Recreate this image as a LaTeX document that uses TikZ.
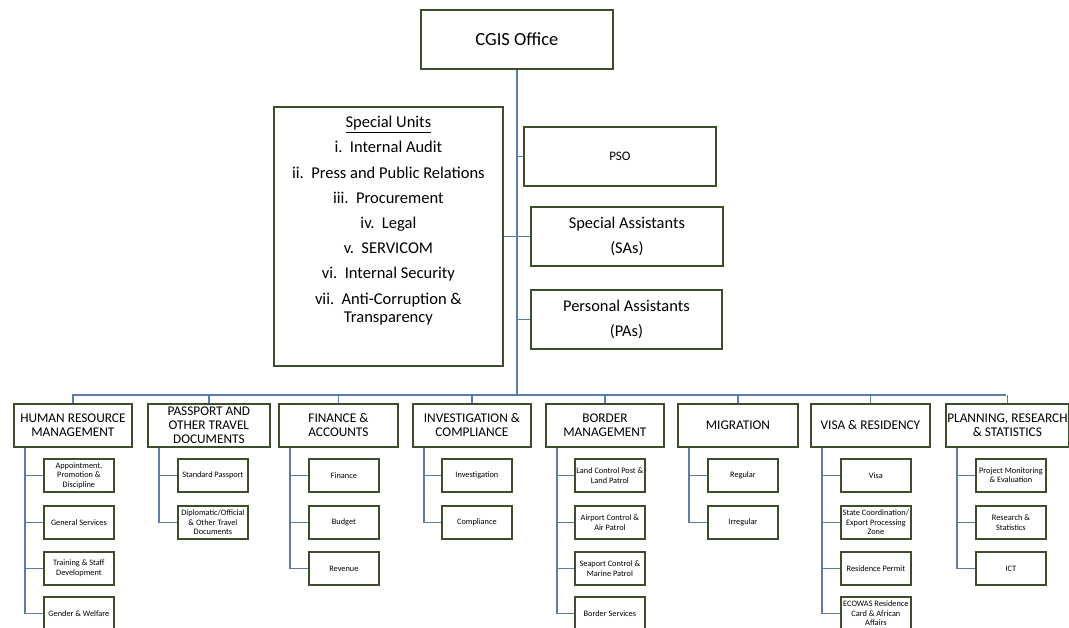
\documentclass[tikz,border=0pt]{standalone}
\usepackage{fontspec}
\setmainfont{Carlito}
\definecolor{boxline}{RGB}{62,78,42}
\definecolor{conn}{RGB}{92,124,176}
\tikzset{
  x=1pt,y=-1pt,
  box/.style={draw=boxline,line width=1.8pt,fill=white,inner sep=1pt,align=center,anchor=north west},
  topbox/.style={box,minimum width=118pt,minimum height=43pt,font=\fontsize{13.3}{14}\selectfont},
  subbox/.style={box,minimum width=70pt,minimum height=33pt,inner sep=0pt,font=\fontsize{8.3}{9.5}\selectfont},
  link/.style={draw=conn,line width=1.3pt},
}
\begin{document}
\begin{tikzpicture}
\useasboundingbox (0,0) rectangle (1069,628);
% top
\node[box,minimum width=192pt,minimum height=59pt,font=\fontsize{18.5}{20}\selectfont] (cgis) at (420,9) {CGIS Office};
\node[box,minimum width=229pt,minimum height=259pt] (su) at (273,106) {};
\node[anchor=north,align=center,font=\fontsize{16.5}{25.2}\selectfont,inner sep=0pt] (sutext) at ([yshift=-10pt]su.north) {%
\underline{Special Units}\\
i.\ \ Internal Audit\\
ii.\ \ Press and Public Relations\\
iii.\ \ Procurement\\
iv.\ \ Legal\\
v.\ \ SERVICOM\\
vi.\ \ Internal Security\\
vii.\ \ Anti-Corruption \&\\[-7pt]
Transparency};
\node[box,minimum width=192pt,minimum height=59pt,font=\fontsize{13}{14}\selectfont] (pso) at (523,126) {PSO};
\node[box,minimum width=192pt,minimum height=59pt,font=\fontsize{16.4}{25.7}\selectfont] (sa) at (530,206) {Special Assistants\\(SAs)};
\node[box,minimum width=191pt,minimum height=59pt,font=\fontsize{16.4}{25.7}\selectfont] (pa) at (530,289) {Personal Assistants\\(PAs)};
% bus
\coordinate (busL) at (72,395);
\coordinate (busR) at (1006,395);
% departments
\node[topbox] (hr) at (13,403) {HUMAN RESOURCE\\MANAGEMENT};
\node[topbox,minimum width=122pt] (pp) at (147,403) {PASSPORT AND\\OTHER TRAVEL\\DOCUMENTS};
\node[topbox,minimum width=119pt] (fa) at (278,403) {FINANCE \&\\ACCOUNTS};
\node[topbox] (ic) at (412,403) {INVESTIGATION \&\\COMPLIANCE};
\node[topbox] (bm) at (545,403) {BORDER\\MANAGEMENT};
\node[topbox,minimum width=120pt] (mg) at (677,403) {MIGRATION};
\node[topbox,minimum width=119pt] (vr) at (810,403) {VISA \& RESIDENCY};
\node[topbox,minimum width=123pt] (pr) at (945,403) {PLANNING, RESEARCH\\\& STATISTICS};
% connectors top
\draw[link] (cgis.south) -- (cgis.south |- busL);
\draw[link] (busL) -- (busR);
\draw[link] (pso.west) -- (pso.west -| cgis.south);
\draw[link] (su.east) -- (sa.west);
\draw[link] (pa.west) -- (pa.west -| cgis.south);
\foreach \d in {hr,pp,fa,ic,bm,mg,vr,pr}{
  \draw[link] (\d.north) -- (\d.north |- busL);
}
% sub boxes
\node[subbox] (hr1) at (43,458) {Appointment,\\Promotion \&\\Discipline};
\node[subbox] (hr2) at (43,505) {General Services};
\node[subbox] (hr3) at (43,551) {Training \& Staff\\Development};
\node[subbox] (hr4) at (43,596) {Gender \& Welfare};
\node[subbox] (pp1) at (177,458) {Standard Passport};
\node[subbox] (pp2) at (177,505) {Diplomatic/Official\\\& Other Travel\\Documents};
\node[subbox] (fa1) at (308,458) {Finance};
\node[subbox] (fa2) at (308,505) {Budget};
\node[subbox] (fa3) at (308,551) {Revenue};
\node[subbox] (ic1) at (441,458) {Investigation};
\node[subbox] (ic2) at (441,505) {Compliance};
\node[subbox] (bm1) at (574,458) {Land Control Post \&\\Land Patrol};
\node[subbox] (bm2) at (574,505) {Airport Control \&\\Air Patrol};
\node[subbox] (bm3) at (574,551) {Seaport Control \&\\Marine Patrol};
\node[subbox] (bm4) at (574,596) {Border Services};
\node[subbox] (mg1) at (707,458) {Regular};
\node[subbox] (mg2) at (707,505) {Irregular};
\node[subbox] (vr1) at (840,458) {Visa};
\node[subbox] (vr2) at (840,505) {State Coordination/\\Export Processing\\Zone};
\node[subbox] (vr3) at (840,551) {Residence Permit};
\node[subbox] (vr4) at (840,596) {ECOWAS Residence\\Card \& African\\Affairs};
\node[subbox] (pr1) at (975,458) {Project Monitoring\\\& Evaluation};
\node[subbox] (pr2) at (975,505) {Research \&\\Statistics};
\node[subbox] (pr3) at (975,551) {ICT};
% sub connectors
\foreach \p/\list in {hr/{hr1,hr2,hr3,hr4},pp/{pp1,pp2},fa/{fa1,fa2,fa3},ic/{ic1,ic2},bm/{bm1,bm2,bm3,bm4},mg/{mg1,mg2},vr/{vr1,vr2,vr3,vr4},pr/{pr1,pr2,pr3}}{
  \foreach \c in \list {
    \draw[link] ([xshift=12pt]\p.south west) |- (\c.west);
  }
}
\end{tikzpicture}
\end{document}
